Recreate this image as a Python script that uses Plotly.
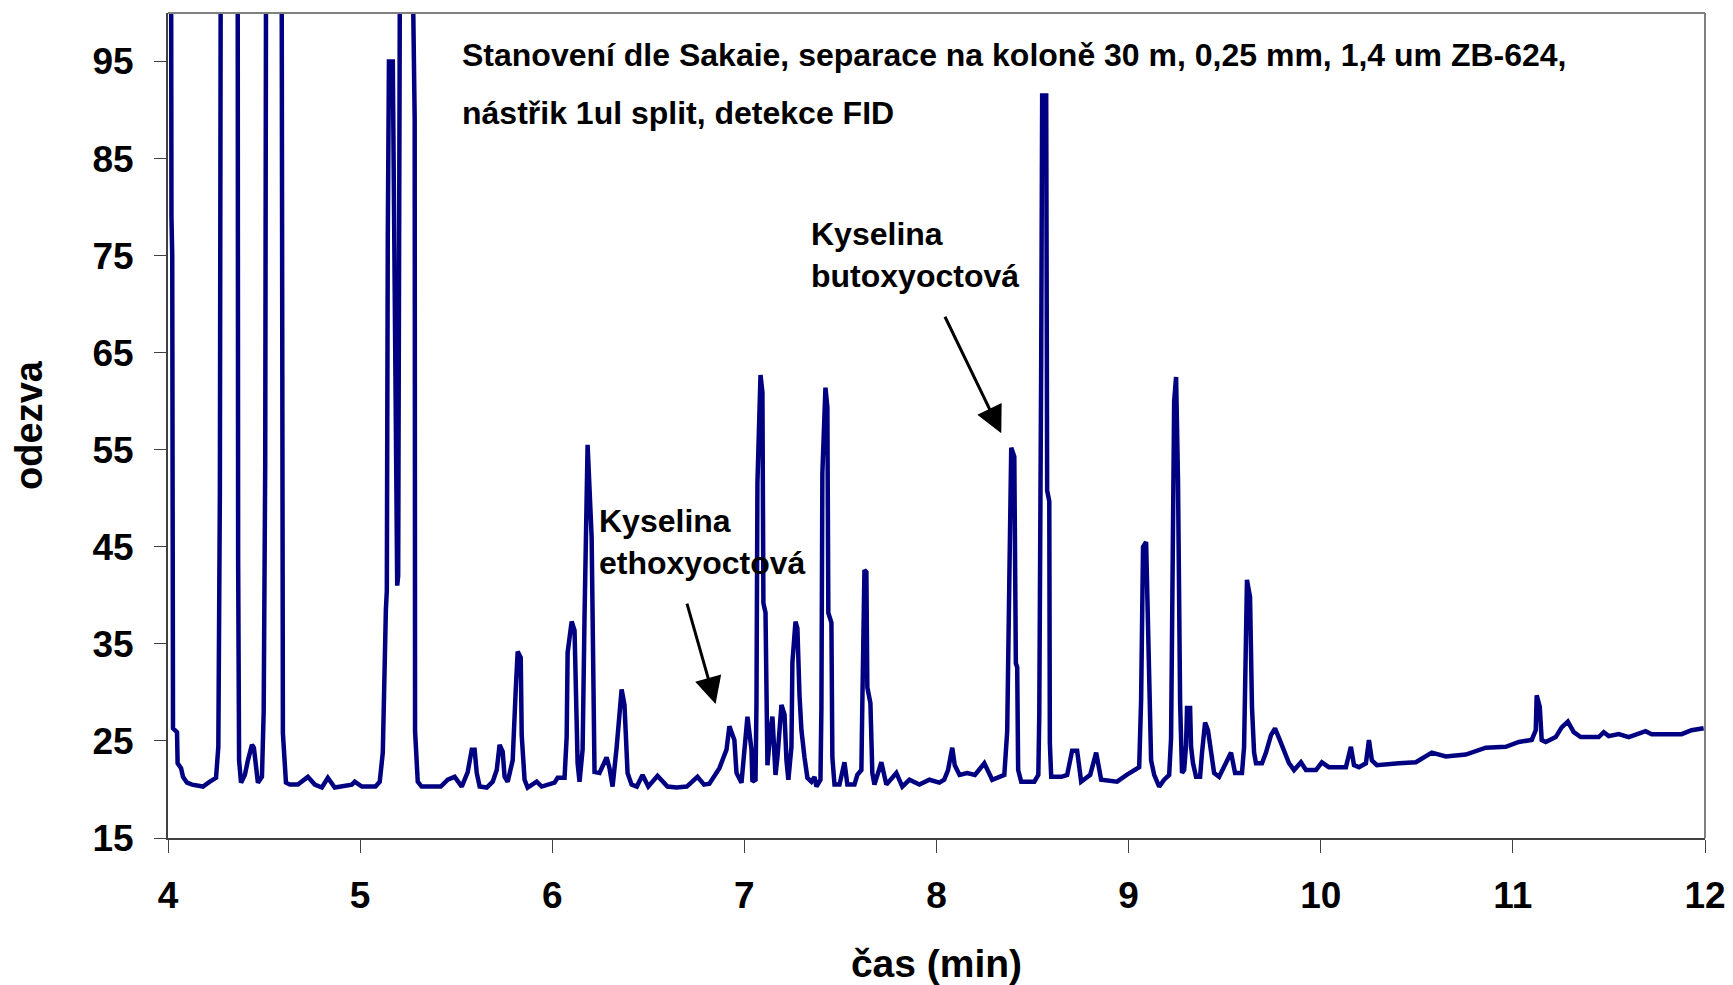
import plotly.graph_objects as go

# chromatogram trace (time in min, response)
time_min = [
    4.000, 4.015, 4.018, 4.022, 4.026, 4.047, 4.050, 4.068, 4.078, 4.099, 4.125, 4.182, 4.218, 4.250,
    4.262, 4.270, 4.276, 4.362, 4.365, 4.370, 4.380, 4.400, 4.416, 4.437, 4.447, 4.463, 4.468, 4.489,
    4.498, 4.506, 4.512, 4.590, 4.593, 4.598, 4.614, 4.634, 4.676, 4.728, 4.764, 4.801, 4.832, 4.868,
    4.957, 4.972, 5.009, 5.080,
    5.102, 5.118, 5.134, 5.139, 5.144, 5.150, 5.170, 5.180, 5.193, 5.198, 5.210, 5.260, 5.284, 5.286, 5.300,
    5.320, 5.420, 5.456, 5.492, 5.529, 5.560, 5.581, 5.596, 5.607, 5.622, 5.659, 5.690, 5.711, 5.726,
    5.742, 5.752, 5.768, 5.794, 5.810, 5.820, 5.836, 5.841, 5.856, 5.872, 5.919, 5.945, 6.012,
    6.028, 6.064, 6.075, 6.080, 6.101, 6.116, 6.127, 6.132, 6.142, 6.158, 6.168, 6.179, 6.184, 6.205,
    6.215, 6.220, 6.246, 6.283, 6.298, 6.314, 6.335, 6.361, 6.376, 6.387, 6.392, 6.413, 6.440, 6.470,
    6.500, 6.548, 6.600, 6.647, 6.700, 6.756, 6.790, 6.818, 6.850, 6.870, 6.907, 6.922, 6.948, 6.959, 6.985,
    6.995, 7.011, 7.016, 7.037, 7.042, 7.058, 7.063, 7.068, 7.084, 7.094, 7.099, 7.110, 7.115, 7.120,
    7.136, 7.146, 7.162, 7.172, 7.193, 7.209, 7.219, 7.229, 7.245, 7.250, 7.266, 7.276, 7.287, 7.297,
    7.313, 7.328, 7.349, 7.365, 7.375, 7.396, 7.401, 7.406, 7.422, 7.432, 7.437, 7.453, 7.458, 7.469,
    7.495, 7.521, 7.536, 7.573, 7.588, 7.609, 7.614, 7.625, 7.635, 7.640, 7.656, 7.666, 7.677, 7.713,
    7.739, 7.791, 7.822, 7.859, 7.911, 7.963, 8.015,
    8.040, 8.060, 8.082, 8.095, 8.120, 8.160, 8.200, 8.249, 8.290, 8.353, 8.368, 8.379, 8.389, 8.405,
    8.413, 8.420, 8.425, 8.441, 8.509, 8.530, 8.535, 8.545, 8.550, 8.571, 8.576, 8.587, 8.590, 8.597,
    8.650, 8.680, 8.706, 8.732, 8.753, 8.800, 8.831, 8.857, 8.940, 8.990, 9.029,
    9.055, 9.065, 9.075, 9.091, 9.101, 9.112, 9.117, 9.133, 9.159, 9.185, 9.211, 9.221, 9.226, 9.237,
    9.247, 9.257, 9.268, 9.278, 9.289, 9.299, 9.304, 9.320, 9.325, 9.335, 9.351, 9.372, 9.382, 9.398,
    9.413, 9.429, 9.445, 9.471, 9.507, 9.533, 9.554, 9.590, 9.601, 9.611, 9.616, 9.632, 9.642, 9.653,
    9.663, 9.694, 9.715, 9.741, 9.762, 9.783, 9.809, 9.835, 9.861, 9.897, 9.923, 9.975, 10.006, 10.042,
    10.131, 10.157, 10.173, 10.199, 10.235, 10.251, 10.266, 10.292, 10.407, 10.495, 10.578, 10.651,
    10.755, 10.859, 10.963, 11.031, 11.098, 11.119, 11.124, 11.140, 11.150, 11.171, 11.223, 11.254,
    11.286, 11.317, 11.353, 11.447, 11.473, 11.499, 11.551, 11.603, 11.691, 11.722, 11.878, 11.930, 11.993,
]

response = [
    130, 125, 79, 75, 26.3, 25.9, 22.7, 22.2, 21.3, 20.7, 20.5, 20.3, 20.8, 21.2,
    24.4, 50.5, 125, 125, 44, 23.0, 20.7, 21.5, 23.0, 24.6, 24.3, 21.0, 20.7, 21.3,
    28.0, 53.6, 125, 125, 50.8, 25.8, 20.7, 20.5, 20.5, 21.3, 20.5, 20.2, 21.2, 20.2,
    20.5, 20.8, 20.3, 20.3,
    20.8, 23.8, 38.5, 40.5, 77, 95, 95, 70, 41, 42, 125, 125, 89, 26, 20.8,
    20.3, 20.3, 21.0, 21.3, 20.3, 21.8, 24.1, 24.1, 21.7, 20.3, 20.2, 20.8, 22.0, 24.6,
    23.9, 21.3, 20.8, 23.0, 30.3, 34.2, 33.6, 25.6, 21.0, 20.2, 20.8, 20.3, 20.7,
    21.2, 21.2, 25.4, 34.1, 37.3, 36.4, 28.9, 22.7, 20.8, 24.1, 37.8, 54.7, 55.5, 46.0,
    27.5, 21.8, 21.7, 23.3, 22.2, 20.3, 24.3, 30.3, 28.7, 24.4, 21.7, 20.5, 20.3, 21.5,
    20.3, 21.4, 20.3, 20.2, 20.3, 21.3, 20.5, 20.6, 21.5, 22.2, 24.1, 26.5, 25.1, 21.7, 20.7,
    22.7, 26.6, 27.5, 24.1, 20.8, 21.0, 28.9, 51.6, 62.7, 60.9, 39.2, 38.2, 24.4, 22.5,
    26.1, 27.5, 21.5, 23.3, 28.7, 27.7, 23.0, 21.0, 24.4, 33.1, 37.3, 36.6, 29.7, 26.1,
    23.3, 21.2, 20.8, 21.3, 20.3, 21.0, 28.5, 52.6, 61.4, 59.4, 38.2, 37.2, 23.3, 20.5,
    20.5, 22.8, 20.5, 20.5, 21.5, 22.0, 28.9, 42.6, 42.4, 30.5, 28.9, 21.7, 20.5, 22.8,
    20.5, 21.7, 20.3, 21.0, 20.5, 21.0, 20.7,
    21.0, 22.0, 24.3, 22.5, 21.5, 21.7, 21.5, 22.7, 21.0, 21.5, 26.0, 41.5, 55.2, 54.3,
    33.0, 32.6, 22.0, 20.8, 20.8, 21.5, 27.8, 64.3, 91.5, 91.5, 50.8, 49.7, 24.8, 21.3,
    21.3, 21.5, 24.0, 24.0, 20.8, 21.5, 23.8, 21.0, 20.8, 21.5, 22.0,
    22.3, 29.2, 45.0, 45.5, 35.7, 25.4, 23.0, 21.5, 20.3, 21.0, 21.5, 25.3, 40.6, 60.0,
    62.5, 51.9, 28.9, 21.7, 22.0, 24.6, 28.4, 28.4, 24.4, 22.7, 21.3, 21.3, 23.8, 26.9,
    26.1, 23.6, 21.7, 21.3, 22.7, 23.8, 21.7, 21.7, 24.4, 36.8, 41.6, 39.8, 28.5, 23.8,
    22.7, 22.7, 23.8, 25.6, 26.3, 25.3, 24.1, 22.7, 22.0, 22.8, 22.0, 22.0, 22.8, 22.3,
    22.3, 24.4, 22.5, 22.3, 22.7, 25.1, 23.0, 22.5, 22.7, 22.8, 23.8, 23.4,
    23.6, 24.3, 24.4, 24.9, 25.1, 26.1, 29.7, 28.5, 25.1, 24.9, 25.4, 26.4,
    27.0, 25.9, 25.4, 25.4, 25.9, 25.5, 25.7, 25.4, 26.0, 25.7, 25.7, 26.1, 26.3,
]

x_ticks = [4, 5, 6, 7, 8, 9, 10, 11, 12]
y_ticks = [15, 25, 35, 45, 55, 65, 75, 85, 95]

title_lines = [
    "Stanovení dle Sakaie, separace na koloně 30 m, 0,25 mm, 1,4 um ZB-624,",
    "nástřik 1ul split, detekce FID",
]
label_ethoxy = "Kyselina<br>ethoxyoctová"
label_butoxy = "Kyselina<br>butoxyoctová"
arrow_ethoxy = (6.850, 28.8)
arrow_butoxy = (8.337, 56.7)

FONT = "Liberation Sans, Arial, sans-serif"

fig = go.Figure()
fig.add_trace(go.Scatter(
    x=time_min, y=response, mode="lines",
    line=dict(color="#000080", width=4.5),
    showlegend=False, hoverinfo="x+y",
))

# the page body adds an 8 px offset, so the figure is sized to compensate
fig.update_layout(
    width=1725, height=977,
    margin=dict(l=160, r=28, t=5, b=147, autoexpand=False),
    paper_bgcolor="white", plot_bgcolor="white",
    font=dict(family=FONT, color="black"),
    showlegend=False,
)

fig.update_xaxes(
    range=[4, 12], tickvals=x_ticks, ticktext=[str(v) for v in x_ticks],
    showgrid=False, zeroline=False, automargin=False,
    showline=True, linecolor="#404040", linewidth=2,
    ticks="outside", ticklen=13, tickwidth=1, tickcolor="#404040",
    tickfont=dict(family=FONT, size=37, weight="bold", color="black"),
    ticklabelstandoff=11,
    title=dict(text="čas (min)", font=dict(family=FONT, size=39, weight="bold", color="black"), standoff=36),
)
fig.update_yaxes(
    range=[15, 100], tickvals=y_ticks, ticktext=[str(v) for v in y_ticks],
    showgrid=False, zeroline=False, automargin=False,
    showline=True, linecolor="#404040", linewidth=2,
    ticks="outside", ticklen=12, tickwidth=1, tickcolor="#404040",
    tickfont=dict(family=FONT, size=37, weight="bold", color="black"),
    ticklabelstandoff=13,
    title=dict(text="odezva", font=dict(family=FONT, size=38, weight="bold", color="black"), standoff=40),
)

# plot-area frame (top and right)
fig.add_shape(type="line", xref="paper", yref="paper", x0=0, x1=1, y0=1, y1=1,
              line=dict(color="#808080", width=2))
fig.add_shape(type="line", xref="paper", yref="paper", x0=1, x1=1, y0=0, y1=1,
              line=dict(color="#808080", width=2))

ann_font = dict(family=FONT, size=32, weight="bold", color="black")
fig.add_annotation(xref="paper", yref="paper", x=0.190, y=0.949, text=title_lines[0],
                   showarrow=False, xanchor="left", yanchor="middle", font=ann_font)
fig.add_annotation(xref="paper", yref="paper", x=0.190, y=0.879, text=title_lines[1],
                   showarrow=False, xanchor="left", yanchor="middle", font=ann_font)
fig.add_annotation(xref="paper", yref="paper", x=0.417, y=0.7067, text=label_butoxy,
                   showarrow=False, xanchor="left", yanchor="middle", align="left", font=ann_font)
fig.add_annotation(xref="paper", yref="paper", x=0.279, y=0.359, text=label_ethoxy,
                   showarrow=False, xanchor="left", yanchor="middle", align="left", font=ann_font)

fig.add_annotation(x=arrow_ethoxy[0], y=arrow_ethoxy[1], text="", showarrow=True,
                   ax=-29, ay=-102, arrowhead=2, arrowsize=1.8, arrowwidth=3, arrowcolor="black")
fig.add_annotation(x=arrow_butoxy[0], y=arrow_butoxy[1], text="", showarrow=True,
                   ax=-57, ay=-118, arrowhead=2, arrowsize=1.8, arrowwidth=3, arrowcolor="black")

fig.write_html("out.html")
